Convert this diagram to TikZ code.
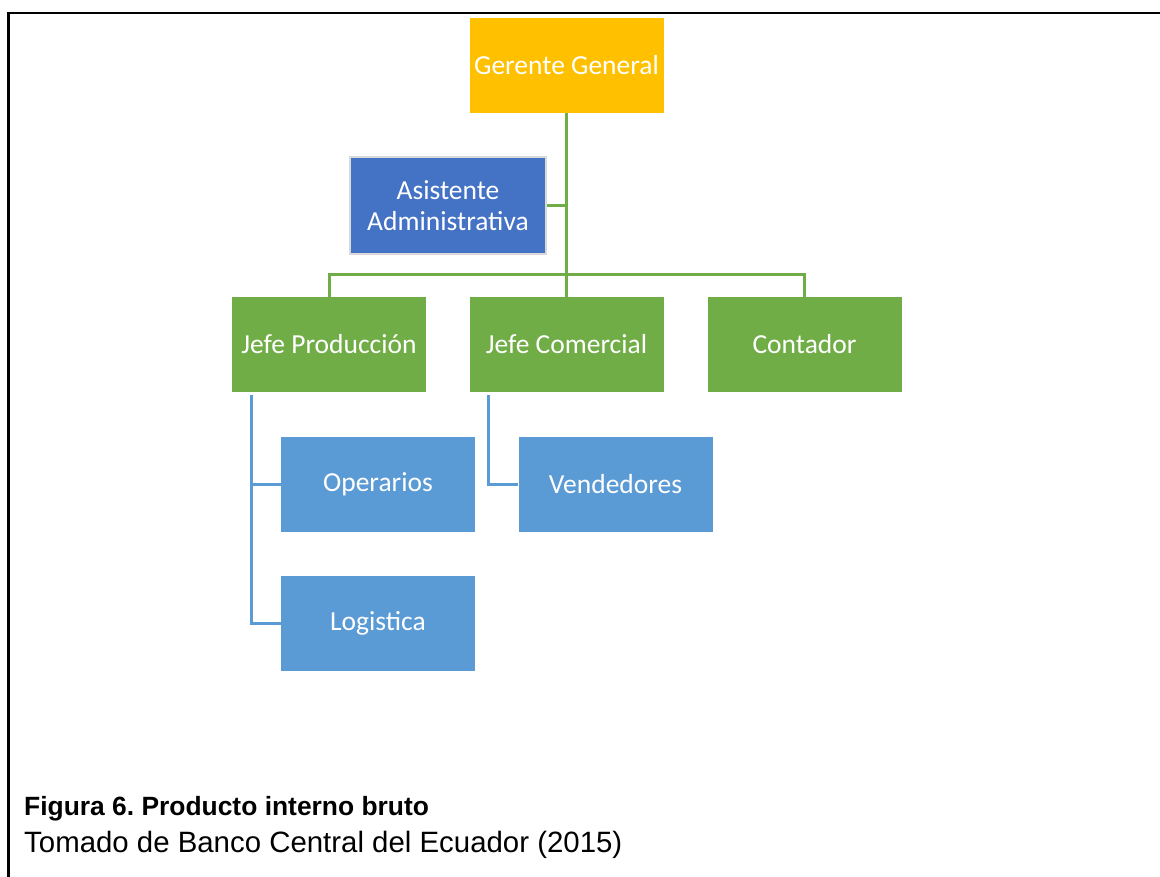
\documentclass[tikz,border=0pt]{standalone}
\usepackage{fontspec}
\setmainfont{Carlito}
\newfontfamily\capfont{Liberation Sans}
\definecolor{gold}{HTML}{FFC000}
\definecolor{dblue}{HTML}{4472C4}
\definecolor{lblue}{HTML}{5B9BD5}
\definecolor{lgreen}{HTML}{70AD47}
\definecolor{lgray}{HTML}{D9D9D9}
\begin{document}
\frenchspacing
\begin{tikzpicture}[x=1pt,y=-1pt,
  box/.style={minimum width=194pt,minimum height=95pt,inner sep=0pt,text=white,font=\fontsize{27.5}{31}\selectfont,align=center},
  gline/.style={draw=lgreen,line width=3pt},
  bline/.style={draw=lblue,line width=3pt}]
\useasboundingbox (0,0) rectangle (1160,877);
\draw[line width=2.5pt] (8.5,877) -- (8.5,13) -- (1160,13);
\node[box,fill=gold] (gg) at (566.5,65.5) {Gerente General};
\node[box,fill=dblue,draw=lgray,line width=2pt,minimum width=196pt,minimum height=97pt] (as) at (448,205.5) {Asistente\\Administrativa};
\node[box,fill=lgreen] (jp) at (329,344.5) {Jefe Producción};
\node[box,fill=lgreen] (jc) at (566.5,344.5) {Jefe Comercial};
\node[box,fill=lgreen] (ct) at (804.5,344.5) {Contador};
\node[box,fill=lblue] (op) at (378,484) {Operarios};
\node[box,fill=lblue] (lg) at (378,623.5) {Logistica};
\node[box,fill=lblue] (vd) at (615.5,484) {Vendedores};
\coordinate (bar) at (566.5,275);
\coordinate (jps) at ([xshift=-78pt,yshift=-3pt]jp.south);
\coordinate (jcs) at ([xshift=-78pt,yshift=-3pt]jc.south);
\draw[gline] (gg.south) -- (jc.north);
\draw[gline] (as.east) -- (as.east -| gg.south);
\draw[gline] (jp.north) |- (bar) -| (ct.north);
\draw[bline] (jps) |- (lg.west);
\draw[bline] (op.west) -- (op.west -| jps);
\draw[bline] (jcs) |- (vd.west);
\node[anchor=base west,inner sep=0pt,font=\capfont\bfseries\fontsize{26.4}{30}\selectfont] (cap1) at (24,815) {Figura 6. Producto interno bruto};
\node[anchor=base west,inner sep=0pt,font=\capfont\fontsize{29.4}{33}\selectfont] (cap2) at (24,852) {Tomado de Banco Central del Ecuador (2015)};
\end{tikzpicture}
\end{document}
